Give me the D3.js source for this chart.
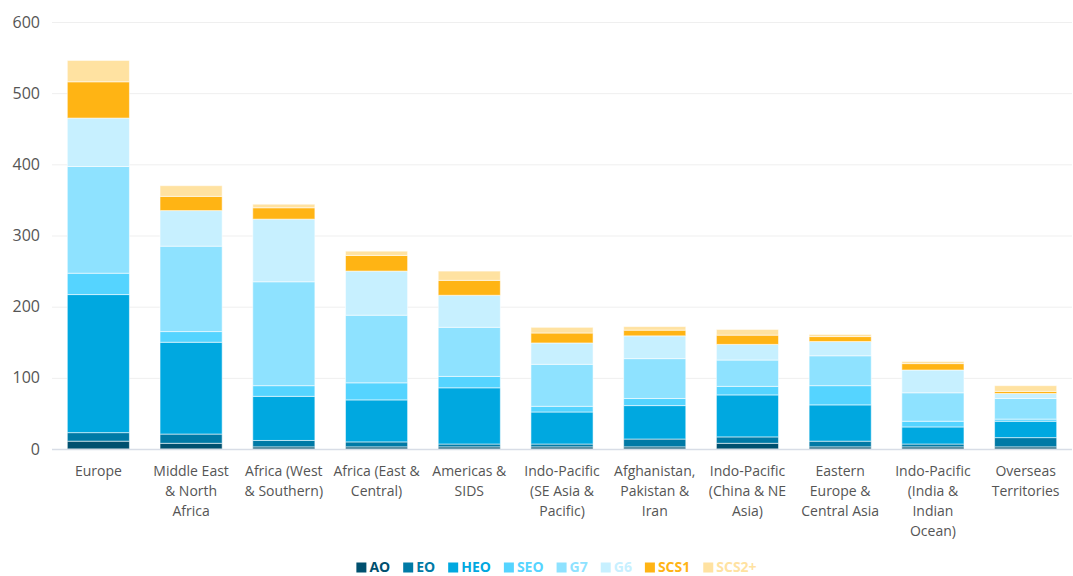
<!DOCTYPE html>
<html>
<head>
<meta charset="utf-8">
<script src="https://cdn.jsdelivr.net/npm/d3@7/dist/d3.min.js"></script>
<style>
  html, body { margin: 0; padding: 0; background: #fff; }
  svg { display: block; font-family: "Open Sans", "Noto Sans", sans-serif; }
</style>
</head>
<body>
<svg id="chart" width="1073" height="576"></svg>
<script>
const categories = [
  "Europe",
  "Middle East & North Africa",
  "Africa (West & Southern)",
  "Africa (East & Central)",
  "Americas & SIDS",
  "Indo-Pacific (SE Asia & Pacific)",
  "Afghanistan, Pakistan & Iran",
  "Indo-Pacific (China & NE Asia)",
  "Eastern Europe & Central Asia",
  "Indo-Pacific (India & Indian Ocean)",
  "Overseas Territories"
];
const categoryLines = [
  ["Europe"],
  ["Middle East", "& North", "Africa"],
  ["Africa (West", "& Southern)"],
  ["Africa (East &", "Central)"],
  ["Americas &", "SIDS"],
  ["Indo-Pacific", "(SE Asia &", "Pacific)"],
  ["Afghanistan,", "Pakistan &", "Iran"],
  ["Indo-Pacific", "(China & NE", "Asia)"],
  ["Eastern", "Europe &", "Central Asia"],
  ["Indo-Pacific", "(India &", "Indian", "Ocean)"],
  ["Overseas", "Territories"]
];
const seriesNames = ["AO", "EO", "HEO", "SEO", "G7", "G6", "SCS1", "SCS2+"];
const seriesColors = ["#00506f", "#007aa6", "#00a8e0", "#55d4ff", "#8ee2ff", "#c7f0ff", "#ffb414", "#ffe2a1"];

const AO    = [11, 8, 3, 3, 3, 3, 3, 8, 3, 3, 3];
const EO    = [12, 13, 9, 7, 4, 4, 11, 9, 8, 4, 13];
const HEO   = [194, 129, 62, 59, 79, 45, 47, 59, 51, 24, 23];
const SEO   = [30, 15, 15, 24, 16, 8, 10, 12, 27, 8, 3];
const G7    = [150, 120, 146, 95, 69, 59, 56, 37, 42, 40, 29];
const G6    = [68, 50, 88, 62, 45, 30, 32, 22, 20, 32, 7];
const SCS1  = [51, 20, 16, 22, 21, 14, 8, 13, 7, 9, 3];
const SCS2p = [30, 15, 5, 6, 13, 8, 5, 8, 3, 3, 8];

const yTicks = [0, 100, 200, 300, 400, 500, 600];

const seriesValues = [AO, EO, HEO, SEO, G7, G6, SCS1, SCS2p];
const rows = categories.map((c, i) => {
  const r = { category: c };
  seriesNames.forEach((s, k) => r[s] = seriesValues[k][i]);
  return r;
});

const svg = d3.select("#chart");
const plotLeft = 52, plotRight = 1072, plotTop = 22, plotBottom = 449;

const x = d3.scaleBand().domain(categories).range([plotLeft, plotRight])
  .paddingInner(0.33).paddingOuter(0.165);
const y = d3.scaleLinear().domain([0, 600]).range([plotBottom, plotTop]);

// gridlines
svg.append("g").selectAll("line").data(yTicks.filter(t => t > 0)).join("line")
  .attr("x1", plotLeft).attr("x2", plotRight)
  .attr("y1", d => y(d) + 0.5).attr("y2", d => y(d) + 0.5)
  .attr("stroke", "#efefef").attr("stroke-width", 1);

// y labels
svg.append("g").selectAll("text").data(yTicks).join("text")
  .attr("x", 40).attr("y", d => y(d) + 5.5)
  .attr("text-anchor", "end")
  .attr("font-size", 16).attr("fill", "#555")
  .text(d => d);

// stacked bars
const stack = d3.stack().keys(seriesNames);
const stacked = stack(rows);
svg.append("g").selectAll("g").data(stacked).join("g")
  .attr("fill", (d, i) => seriesColors[i])
  .selectAll("rect").data(d => d).join("rect")
  .attr("x", d => x(d.data.category))
  .attr("width", x.bandwidth())
  .attr("y", d => y(d[1]))
  .attr("height", d => Math.max(0, y(d[0]) - y(d[1])))
  .attr("stroke", "#ffffff").attr("stroke-opacity", 0.55).attr("stroke-width", 1);

// axis line
svg.append("line")
  .attr("x1", plotLeft).attr("x2", plotRight)
  .attr("y1", plotBottom + 0.5).attr("y2", plotBottom + 0.5)
  .attr("stroke", "#d8dde6").attr("stroke-width", 1.5);

// x labels
const labelG = svg.append("g");
categories.forEach((c, ci) => {
  const cx = x(c) + x.bandwidth() / 2;
  const t = labelG.append("text")
    .attr("x", cx).attr("y", 476)
    .attr("text-anchor", "middle")
    .attr("font-size", 14).attr("fill", "#555");
  categoryLines[ci].forEach((l, i) => {
    t.append("tspan").attr("x", cx).attr("dy", i === 0 ? 0 : 20).text(l);
  });
});

// legend
const legend = svg.append("g");
let lx = 0;
seriesNames.forEach((s, i) => {
  const g = legend.append("g").attr("transform", `translate(${lx},0)`);
  g.append("rect").attr("x", 0).attr("y", -9.5).attr("width", 10).attr("height", 10)
    .attr("fill", seriesColors[i]);
  const t = g.append("text").attr("x", 13).attr("y", 0)
    .attr("font-size", 14).attr("font-weight", "bold").attr("fill", seriesColors[i]).text(s);
  const w = 13 + t.node().getComputedTextLength();
  lx += w + 13;
});
const totalW = lx - 13;
legend.attr("transform", `translate(${556.5 - totalW / 2},572)`);
</script>
</body>
</html>
